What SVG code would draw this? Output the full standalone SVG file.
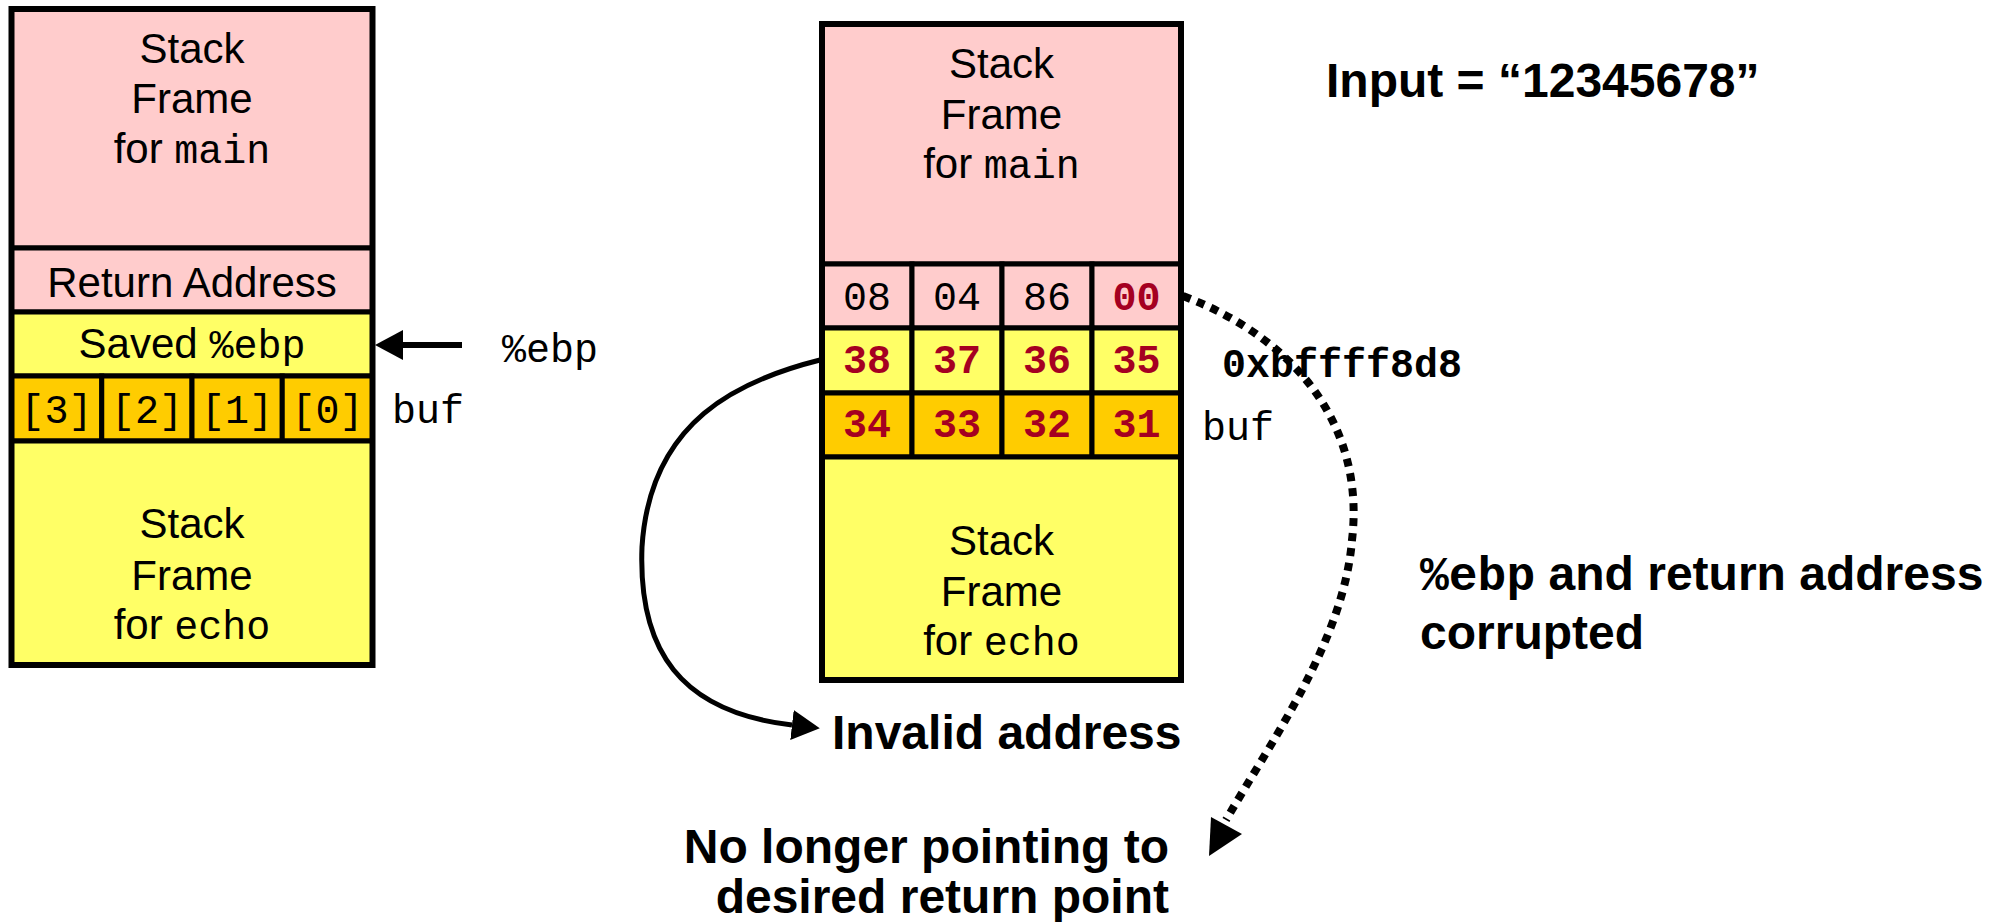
<svg xmlns="http://www.w3.org/2000/svg" width="1994" height="922" viewBox="0 0 1994 922">
  <style>
    .pink { fill: #FFCCCC; stroke: #000; stroke-width: 5; }
    .yel { fill: #FFFF66; stroke: #000; stroke-width: 5; }
    .org { fill: #FFCC00; stroke: #000; stroke-width: 5; }
    .frame { fill: none; stroke: #000; stroke-width: 6; }
    .sans { font-family: "Liberation Sans", Arial, sans-serif; font-size: 42px; fill: #000; }
    .mono { font-family: "Liberation Mono", "Courier New", monospace; font-size: 40px; fill: #000; }
    .mid { text-anchor: middle; }
    .red { fill: #A50021; font-weight: bold; }
    .label { font-family: "Liberation Sans", Arial, sans-serif; font-size: 48px; font-weight: bold; fill: #000; }
    .monob { font-family: "Liberation Mono", "Courier New", monospace; font-weight: bold; }
    .conn { fill: none; stroke: #000; }
  </style>
  <defs>
    <marker id="head" markerUnits="userSpaceOnUse" viewBox="0 0 28 30" refX="0" refY="15" markerWidth="28" markerHeight="30" orient="auto">
      <path d="M0,0 L28,15 L0,30 z" fill="#000"/>
    </marker>
  </defs>

  <!-- Stack before the overflow -->
  <g id="left-stack">
    <g id="left-main">
      <rect class="pink" x="11.5" y="9" width="361" height="239"/>
      <text class="sans mid" x="192" y="63">Stack</text>
      <text class="sans mid" x="192" y="113">Frame</text>
      <text class="sans mid" x="192" y="163">for <tspan class="mono">main</tspan></text>
    </g>
    <g id="left-ret">
      <rect class="pink" x="11.5" y="248" width="361" height="64"/>
      <text class="sans mid" x="192" y="297">Return Address</text>
    </g>
    <g id="left-ebp">
      <rect class="yel" x="11.5" y="312" width="361" height="64"/>
      <text class="sans mid" x="192" y="358">Saved <tspan class="mono">%ebp</tspan></text>
    </g>
    <g id="left-buf">
      <rect class="org" x="11.5" y="376" width="90.25" height="65"/>
      <rect class="org" x="101.75" y="376" width="90.25" height="65"/>
      <rect class="org" x="192" y="376" width="90.25" height="65"/>
      <rect class="org" x="282.25" y="376" width="90.25" height="65"/>
      <text class="mono mid" x="56.6" y="423">[3]</text>
      <text class="mono mid" x="146.9" y="423">[2]</text>
      <text class="mono mid" x="237.1" y="423">[1]</text>
      <text class="mono mid" x="327.4" y="423">[0]</text>
    </g>
    <g id="left-echo">
      <rect class="yel" x="11.5" y="441" width="361" height="224"/>
      <text class="sans mid" x="192" y="538">Stack</text>
      <text class="sans mid" x="192" y="590">Frame</text>
      <text class="sans mid" x="192" y="639">for <tspan class="mono">echo</tspan></text>
    </g>
    <rect class="frame" x="11.5" y="9" width="361" height="656"/>
  </g>
  <g id="left-labels">
    <text class="mono" x="502" y="362">%ebp</text>
    <text class="mono" x="392" y="423">buf</text>
  </g>

  <!-- Stack after "12345678" was read -->
  <g id="right-stack">
    <g id="right-main">
      <rect class="pink" x="822" y="24" width="359" height="240"/>
      <text class="sans mid" x="1001.5" y="78">Stack</text>
      <text class="sans mid" x="1001.5" y="129">Frame</text>
      <text class="sans mid" x="1001.5" y="178">for <tspan class="mono">main</tspan></text>
    </g>
    <g id="right-ret">
      <rect class="pink" x="822" y="264" width="90" height="64"/>
      <rect class="pink" x="912" y="264" width="90" height="64"/>
      <rect class="pink" x="1002" y="264" width="90" height="64"/>
      <rect class="pink" x="1092" y="264" width="89" height="64"/>
      <text class="mono mid" x="867" y="310">08</text>
      <text class="mono mid" x="957" y="310">04</text>
      <text class="mono mid" x="1047" y="310">86</text>
      <text class="mono mid red" x="1136.5" y="310">00</text>
    </g>
    <g id="right-ebp">
      <rect class="yel" x="822" y="328" width="90" height="65"/>
      <rect class="yel" x="912" y="328" width="90" height="65"/>
      <rect class="yel" x="1002" y="328" width="90" height="65"/>
      <rect class="yel" x="1092" y="328" width="89" height="65"/>
      <text class="mono mid red" x="867" y="373">38</text>
      <text class="mono mid red" x="957" y="373">37</text>
      <text class="mono mid red" x="1047" y="373">36</text>
      <text class="mono mid red" x="1136.5" y="373">35</text>
    </g>
    <g id="right-buf">
      <rect class="org" x="822" y="393" width="90" height="64"/>
      <rect class="org" x="912" y="393" width="90" height="64"/>
      <rect class="org" x="1002" y="393" width="90" height="64"/>
      <rect class="org" x="1092" y="393" width="89" height="64"/>
      <text class="mono mid red" x="867" y="437">34</text>
      <text class="mono mid red" x="957" y="437">33</text>
      <text class="mono mid red" x="1047" y="437">32</text>
      <text class="mono mid red" x="1136.5" y="437">31</text>
    </g>
    <g id="right-echo">
      <rect class="yel" x="822" y="457" width="359" height="223"/>
      <text class="sans mid" x="1001.5" y="555">Stack</text>
      <text class="sans mid" x="1001.5" y="606">Frame</text>
      <text class="sans mid" x="1001.5" y="655">for <tspan class="mono">echo</tspan></text>
    </g>
    <rect class="frame" x="822" y="24" width="359" height="656"/>
  </g>
  <g id="right-labels">
    <text class="mono monob" x="1222" y="377" font-size="42">0xbffff8d8</text>
    <text class="mono" x="1202" y="440">buf</text>
  </g>

  <g id="notes">
    <text class="label" x="1326" y="97">Input = “12345678”</text>
    <text class="label" x="832" y="749">Invalid address</text>
    <text class="label" x="1169" y="863" text-anchor="end">No longer pointing to</text>
    <text class="label" x="1169" y="913" text-anchor="end">desired return point</text>
    <text class="label" x="1420" y="590"><tspan class="monob">%ebp</tspan> and return address</text>
    <text class="label" x="1420" y="649">corrupted</text>
  </g>

  <g id="connectors">
    <path class="conn" d="M462,345 L403,345" stroke-width="6" marker-end="url(#head)"/>
    <path class="conn" d="M820,360 C740,380 650,420 642,547 C638,650 680,712 792,725" stroke-width="5" marker-end="url(#head)"/>
    <path class="conn" d="M1183,296 C1300,340 1365,430 1352,540 C1344,640 1272,740 1226,820" stroke-width="8" stroke-dasharray="8 7"/>
    <polygon points="1211,817 1242,834 1209,856" fill="#000"/>
  </g>
</svg>
